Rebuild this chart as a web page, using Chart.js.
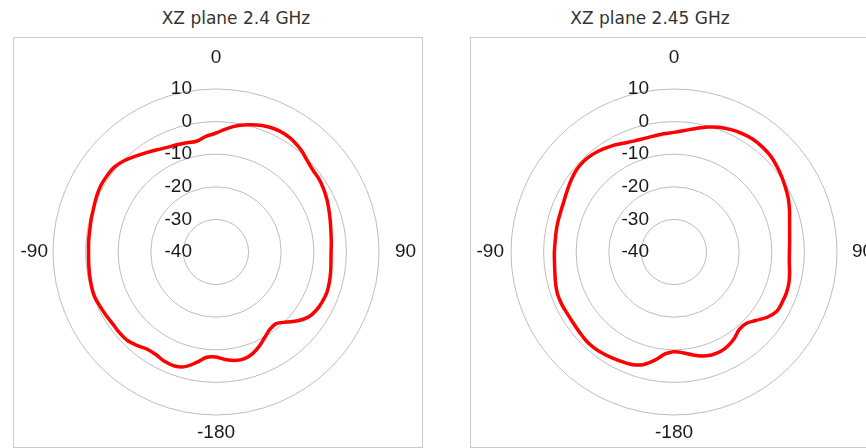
<!DOCTYPE html>
<html>
<head>
<meta charset="utf-8">
<script src="https://cdn.jsdelivr.net/npm/chart.js@4"></script>
<style>
  html, body { margin: 0; padding: 0; background: #ffffff; }
  body { width: 866px; height: 448px; position: relative; overflow: hidden; }
  .box { position: absolute; border: 1.5px solid #cbcbcb; box-sizing: border-box; }
  .title { position: absolute; width: 220px; text-align: center; font-family: "DejaVu Sans", sans-serif; font-size: 17px; line-height: 20px; color: #333333; white-space: nowrap; }
  canvas { position: absolute; top: 0; }
</style>
</head>
<body>
<div class="box" style="left:13px; top:37px; width:410px; height:411px;"></div>
<div class="box" style="left:470px; top:37px; width:420px; height:411px;"></div>
<div class="title" id="t1" style="left:126px; top:8px;"></div>
<div class="title" id="t2" style="left:540px; top:8px;"></div>
<canvas id="c1" width="440" height="448" style="left:0px; width:440px; height:448px;"></canvas>
<canvas id="c2" width="426" height="448" style="left:440px; width:426px; height:448px;"></canvas>
<script>
// ---- data ----
const titles = ["XZ plane 2.4 GHz", "XZ plane 2.45 GHz"];
// angles in degrees, clockwise from top (0 = top, 90 = right, 180 = bottom, 270 = left)
const angles = [0,5,10,15,20,25,30,35,40,45,50,55,60,65,70,75,80,85,90,95,100,105,110,115,
  120,125,130,135,140,145,150,155,160,165,170,175,180,185,190,195,200,205,210,215,220,225,230,235,
  240,245,250,255,260,265,270,275,280,285,290,295,300,305,310,315,320,325,330,335,340,345,350,355];
// gain in dB, 2.4 GHz
const gain24 = [-3.5,-2.0,-0.6,0.4,1.3,1.8,1.9,1.5,0.7,-0.4,-1.1,-1.3,-1.8,-2.4,-3.1,-3.7,-4.2,-4.5,-4.7,-4.6,-4.3,-4.0,
  -3.8,-4.0,-4.4,-5.3,-7.2,-9.6,-11.3,-11.1,-9.9,-8.3,-6.9,-6.1,-6.2,-6.9,-7.8,-7.6,-5.6,-3.6,-2.8,-2.9,
  -3.5,-3.5,-2.5,-1.6,-1.4,-1.4,-1.1,-0.7,-0.3,-0.4,-0.6,-0.8,-0.9,-0.8,-0.7,-0.4,-0.1,0.4,0.8,0.8,
  0.6,-0.3,-1.6,-2.8,-3.8,-4.6,-5.0,-5.3,-5.5,-4.4];
// gain in dB, 2.45 GHz
const gain245 = [-3.3,-2.6,-1.5,-0.3,0.7,1.4,1.9,2.2,2.1,1.8,1.1,0.3,-0.5,-1.3,-2.3,-3.3,-4.0,-4.4,-4.6,-4.5,-4.0,-3.5,
  -3.3,-3.4,-3.6,-5.1,-7.3,-8.9,-8.9,-7.7,-6.8,-6.3,-6.4,-7.0,-8.0,-9.0,-9.4,-8.6,-6.3,-4.3,-3.2,-2.8,
  -2.4,-2.0,-1.7,-1.7,-2.0,-2.2,-2.2,-2.0,-2.0,-2.4,-2.9,-3.2,-3.3,-3.4,-3.3,-3.2,-3.1,-2.8,-2.2,-1.5,
  -0.9,-0.7,-1.0,-1.6,-2.3,-3.2,-3.8,-4.0,-3.9,-3.6];
// radial tick labels
const radialTicks = [10, 0, -10, -20, -30, -40];
// angular labels: [angle in degrees, text]
const angleTickAngles = [0, 90, 180, 270];
const angleTickTexts = ["0", "90", "-180", "-90"];

document.getElementById('t1').textContent = titles[0];
document.getElementById('t2').textContent = titles[1];

const labelFont = '19px "Liberation Sans", Arial, sans-serif';

const polarLabels = {
  id: 'polarLabels',
  afterDraw(chart, args, opts) {
    const s = chart.scales.r;
    const ctx = chart.ctx;
    ctx.save();
    ctx.font = labelFont;
    ctx.fillStyle = '#1a1a1a';
    ctx.textBaseline = 'middle';
    // radial tick labels
    ctx.textAlign = 'right';
    radialTicks.forEach(v => {
      const d = s.getDistanceFromCenterForValue(v);
      ctx.fillText(String(v), s.xCenter - opts.tickShift, s.yCenter - d);
    });
    // angular labels
    const r = s.drawingArea;
    angleTickAngles.forEach((a, i) => {
      const idx = angles.indexOf(a);
      let dist, align;
      if (a === 0) { dist = r + 31; align = 'center'; }
      else if (a === 90) { dist = r + opts.rightGap; align = 'left'; }
      else if (a === 180) { dist = r + 18; align = 'center'; }
      else { dist = r + opts.leftGap; align = 'right'; }
      const p = s.getPointPosition(idx, dist);
      ctx.textAlign = align;
      ctx.fillText(angleTickTexts[i], p.x, p.y);
    });
    ctx.restore();
  }
};

function makeChart(id, values, pad, labelOpts) {
  return new Chart(document.getElementById(id), {
    type: 'radar',
    data: {
      labels: angles.map(String),
      datasets: [{
        data: values,
        borderColor: '#ff0000',
        borderWidth: 3.5,
        pointRadius: 0,
        pointHoverRadius: 0,
        fill: false,
        tension: 0.35
      }]
    },
    options: {
      responsive: false,
      animation: false,
      devicePixelRatio: 1,
      layout: { padding: pad },
      plugins: {
        legend: { display: false },
        tooltip: { enabled: false },
        title: { display: false },
        polarLabels: labelOpts
      },
      scales: {
        r: {
          min: -40,
          max: 10,
          startAngle: 0,
          ticks: { stepSize: 10, display: false },
          grid: { color: '#bdbdbd', lineWidth: 1, circular: true },
          angleLines: { display: false },
          pointLabels: { display: false }
        }
      }
    },
    plugins: [polarLabels]
  });
}

makeChart('c1', gain24, { left: 53, right: 61, top: 89, bottom: 33 }, { tickShift: 24, leftGap: 5, rightGap: 16 });
makeChart('c2', gain245, { left: 71, right: 29, top: 89, bottom: 33 }, { tickShift: 25, leftGap: 7, rightGap: 15 });
</script>
</body>
</html>
